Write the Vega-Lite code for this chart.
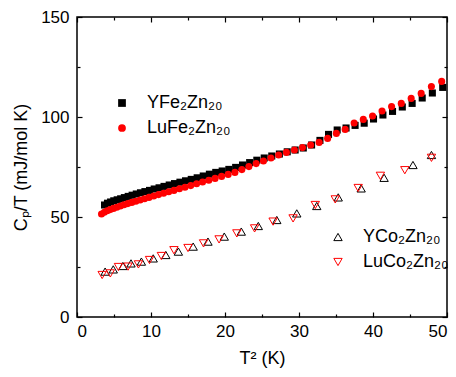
{
  "$schema": "https://vega.github.io/schema/vega-lite/v6.json",
  "width": 370,
  "height": 300,
  "autosize": {"type": "none"},
  "padding": {"left": 77, "top": 17, "right": 9, "bottom": 60},
  "config": {
    "font": "Liberation Sans",
    "view": {"stroke": "black", "strokeWidth": 1.5},
    "axis": {"grid": false, "domain": false, "tickColor": "black", "labelColor": "black", "titleColor": "black", "labelFontSize": 17, "titleFontSize": 18, "titleFontWeight": "normal", "tickWidth": 1.2},
    "legend": {"padding": 0}
  },
  "datasets": {
    "fe": [
      {"sample": "YFe₂Zn₂₀", "t2": 3.72, "cpt": 56.0},
      {"sample": "YFe₂Zn₂₀", "t2": 4.12, "cpt": 56.9},
      {"sample": "YFe₂Zn₂₀", "t2": 4.54, "cpt": 57.5},
      {"sample": "YFe₂Zn₂₀", "t2": 4.97, "cpt": 58.1},
      {"sample": "YFe₂Zn₂₀", "t2": 5.43, "cpt": 58.6},
      {"sample": "YFe₂Zn₂₀", "t2": 5.90, "cpt": 59.1},
      {"sample": "YFe₂Zn₂₀", "t2": 6.40, "cpt": 59.7},
      {"sample": "YFe₂Zn₂₀", "t2": 6.92, "cpt": 60.3},
      {"sample": "YFe₂Zn₂₀", "t2": 7.45, "cpt": 60.9},
      {"sample": "YFe₂Zn₂₀", "t2": 8.01, "cpt": 61.5},
      {"sample": "YFe₂Zn₂₀", "t2": 8.58, "cpt": 62.1},
      {"sample": "YFe₂Zn₂₀", "t2": 9.18, "cpt": 62.7},
      {"sample": "YFe₂Zn₂₀", "t2": 9.80, "cpt": 63.3},
      {"sample": "YFe₂Zn₂₀", "t2": 10.43, "cpt": 64.0},
      {"sample": "YFe₂Zn₂₀", "t2": 11.09, "cpt": 64.6},
      {"sample": "YFe₂Zn₂₀", "t2": 11.76, "cpt": 65.3},
      {"sample": "YFe₂Zn₂₀", "t2": 12.46, "cpt": 66.0},
      {"sample": "YFe₂Zn₂₀", "t2": 13.18, "cpt": 66.7},
      {"sample": "YFe₂Zn₂₀", "t2": 13.91, "cpt": 67.4},
      {"sample": "YFe₂Zn₂₀", "t2": 14.67, "cpt": 68.1},
      {"sample": "YFe₂Zn₂₀", "t2": 15.44, "cpt": 68.8},
      {"sample": "YFe₂Zn₂₀", "t2": 16.24, "cpt": 69.6},
      {"sample": "YFe₂Zn₂₀", "t2": 17.06, "cpt": 70.5},
      {"sample": "YFe₂Zn₂₀", "t2": 17.89, "cpt": 71.4},
      {"sample": "YFe₂Zn₂₀", "t2": 18.75, "cpt": 72.3},
      {"sample": "YFe₂Zn₂₀", "t2": 19.62, "cpt": 73.0},
      {"sample": "YFe₂Zn₂₀", "t2": 20.52, "cpt": 73.8},
      {"sample": "YFe₂Zn₂₀", "t2": 21.44, "cpt": 74.8},
      {"sample": "YFe₂Zn₂₀", "t2": 22.37, "cpt": 76.0},
      {"sample": "YFe₂Zn₂₀", "t2": 23.33, "cpt": 77.2},
      {"sample": "YFe₂Zn₂₀", "t2": 24.30, "cpt": 78.4},
      {"sample": "YFe₂Zn₂₀", "t2": 25.30, "cpt": 79.5},
      {"sample": "YFe₂Zn₂₀", "t2": 26.32, "cpt": 80.5},
      {"sample": "YFe₂Zn₂₀", "t2": 27.35, "cpt": 81.5},
      {"sample": "YFe₂Zn₂₀", "t2": 28.41, "cpt": 82.6},
      {"sample": "YFe₂Zn₂₀", "t2": 29.48, "cpt": 83.5},
      {"sample": "YFe₂Zn₂₀", "t2": 30.58, "cpt": 84.5},
      {"sample": "YFe₂Zn₂₀", "t2": 31.70, "cpt": 86.0},
      {"sample": "YFe₂Zn₂₀", "t2": 32.83, "cpt": 88.3},
      {"sample": "YFe₂Zn₂₀", "t2": 33.99, "cpt": 91.3},
      {"sample": "YFe₂Zn₂₀", "t2": 35.16, "cpt": 93.5},
      {"sample": "YFe₂Zn₂₀", "t2": 36.36, "cpt": 94.5},
      {"sample": "YFe₂Zn₂₀", "t2": 37.58, "cpt": 95.8},
      {"sample": "YFe₂Zn₂₀", "t2": 38.81, "cpt": 96.9},
      {"sample": "YFe₂Zn₂₀", "t2": 40.07, "cpt": 99.0},
      {"sample": "YFe₂Zn₂₀", "t2": 41.34, "cpt": 101.0},
      {"sample": "YFe₂Zn₂₀", "t2": 42.64, "cpt": 102.8},
      {"sample": "YFe₂Zn₂₀", "t2": 43.96, "cpt": 105.0},
      {"sample": "YFe₂Zn₂₀", "t2": 45.29, "cpt": 106.8},
      {"sample": "YFe₂Zn₂₀", "t2": 46.65, "cpt": 109.5},
      {"sample": "YFe₂Zn₂₀", "t2": 48.02, "cpt": 112.0},
      {"sample": "YFe₂Zn₂₀", "t2": 49.42, "cpt": 114.8},
      {"sample": "LuFe₂Zn₂₀", "t2": 3.31, "cpt": 51.5},
      {"sample": "LuFe₂Zn₂₀", "t2": 3.69, "cpt": 52.4},
      {"sample": "LuFe₂Zn₂₀", "t2": 4.08, "cpt": 53.1},
      {"sample": "LuFe₂Zn₂₀", "t2": 4.49, "cpt": 53.7},
      {"sample": "LuFe₂Zn₂₀", "t2": 4.93, "cpt": 54.3},
      {"sample": "LuFe₂Zn₂₀", "t2": 5.38, "cpt": 54.9},
      {"sample": "LuFe₂Zn₂₀", "t2": 5.86, "cpt": 55.5},
      {"sample": "LuFe₂Zn₂₀", "t2": 6.35, "cpt": 56.1},
      {"sample": "LuFe₂Zn₂₀", "t2": 6.86, "cpt": 56.7},
      {"sample": "LuFe₂Zn₂₀", "t2": 7.40, "cpt": 57.3},
      {"sample": "LuFe₂Zn₂₀", "t2": 7.95, "cpt": 57.9},
      {"sample": "LuFe₂Zn₂₀", "t2": 8.53, "cpt": 58.5},
      {"sample": "LuFe₂Zn₂₀", "t2": 9.12, "cpt": 59.1},
      {"sample": "LuFe₂Zn₂₀", "t2": 9.73, "cpt": 59.8},
      {"sample": "LuFe₂Zn₂₀", "t2": 10.37, "cpt": 60.5},
      {"sample": "LuFe₂Zn₂₀", "t2": 11.02, "cpt": 61.2},
      {"sample": "LuFe₂Zn₂₀", "t2": 11.70, "cpt": 61.9},
      {"sample": "LuFe₂Zn₂₀", "t2": 12.39, "cpt": 62.6},
      {"sample": "LuFe₂Zn₂₀", "t2": 13.10, "cpt": 63.3},
      {"sample": "LuFe₂Zn₂₀", "t2": 13.84, "cpt": 64.1},
      {"sample": "LuFe₂Zn₂₀", "t2": 14.59, "cpt": 64.9},
      {"sample": "LuFe₂Zn₂₀", "t2": 15.37, "cpt": 65.7},
      {"sample": "LuFe₂Zn₂₀", "t2": 16.16, "cpt": 66.6},
      {"sample": "LuFe₂Zn₂₀", "t2": 16.97, "cpt": 67.5},
      {"sample": "LuFe₂Zn₂₀", "t2": 17.81, "cpt": 68.4},
      {"sample": "LuFe₂Zn₂₀", "t2": 18.66, "cpt": 69.3},
      {"sample": "LuFe₂Zn₂₀", "t2": 19.54, "cpt": 70.3},
      {"sample": "LuFe₂Zn₂₀", "t2": 20.43, "cpt": 71.3},
      {"sample": "LuFe₂Zn₂₀", "t2": 21.34, "cpt": 72.3},
      {"sample": "LuFe₂Zn₂₀", "t2": 22.28, "cpt": 73.7},
      {"sample": "LuFe₂Zn₂₀", "t2": 23.23, "cpt": 75.2},
      {"sample": "LuFe₂Zn₂₀", "t2": 24.21, "cpt": 76.7},
      {"sample": "LuFe₂Zn₂₀", "t2": 25.20, "cpt": 78.0},
      {"sample": "LuFe₂Zn₂₀", "t2": 26.21, "cpt": 79.5},
      {"sample": "LuFe₂Zn₂₀", "t2": 27.25, "cpt": 81.0},
      {"sample": "LuFe₂Zn₂₀", "t2": 28.30, "cpt": 82.3},
      {"sample": "LuFe₂Zn₂₀", "t2": 29.38, "cpt": 83.5},
      {"sample": "LuFe₂Zn₂₀", "t2": 30.47, "cpt": 84.7},
      {"sample": "LuFe₂Zn₂₀", "t2": 31.58, "cpt": 86.0},
      {"sample": "LuFe₂Zn₂₀", "t2": 32.72, "cpt": 87.3},
      {"sample": "LuFe₂Zn₂₀", "t2": 33.87, "cpt": 89.3},
      {"sample": "LuFe₂Zn₂₀", "t2": 35.05, "cpt": 91.8},
      {"sample": "LuFe₂Zn₂₀", "t2": 36.24, "cpt": 93.8},
      {"sample": "LuFe₂Zn₂₀", "t2": 37.45, "cpt": 97.0},
      {"sample": "LuFe₂Zn₂₀", "t2": 38.69, "cpt": 98.8},
      {"sample": "LuFe₂Zn₂₀", "t2": 39.94, "cpt": 100.5},
      {"sample": "LuFe₂Zn₂₀", "t2": 41.22, "cpt": 103.0},
      {"sample": "LuFe₂Zn₂₀", "t2": 42.51, "cpt": 105.2},
      {"sample": "LuFe₂Zn₂₀", "t2": 43.82, "cpt": 106.8},
      {"sample": "LuFe₂Zn₂₀", "t2": 45.16, "cpt": 109.3},
      {"sample": "LuFe₂Zn₂₀", "t2": 46.51, "cpt": 111.8},
      {"sample": "LuFe₂Zn₂₀", "t2": 47.89, "cpt": 115.2},
      {"sample": "LuFe₂Zn₂₀", "t2": 49.28, "cpt": 117.8}
    ],
    "co": [
      {"sample": "YCo₂Zn₂₀", "t2": 3.8, "cpt": 22.7},
      {"sample": "YCo₂Zn₂₀", "t2": 4.9, "cpt": 23.8},
      {"sample": "YCo₂Zn₂₀", "t2": 6.2, "cpt": 25.5},
      {"sample": "YCo₂Zn₂₀", "t2": 7.3, "cpt": 26.8},
      {"sample": "YCo₂Zn₂₀", "t2": 8.7, "cpt": 27.7},
      {"sample": "YCo₂Zn₂₀", "t2": 10.3, "cpt": 29.3},
      {"sample": "YCo₂Zn₂₀", "t2": 12.0, "cpt": 31.0},
      {"sample": "YCo₂Zn₂₀", "t2": 13.7, "cpt": 32.7},
      {"sample": "YCo₂Zn₂₀", "t2": 15.7, "cpt": 35.2},
      {"sample": "YCo₂Zn₂₀", "t2": 17.7, "cpt": 37.7},
      {"sample": "YCo₂Zn₂₀", "t2": 19.9, "cpt": 40.2},
      {"sample": "YCo₂Zn₂₀", "t2": 22.2, "cpt": 42.7},
      {"sample": "YCo₂Zn₂₀", "t2": 24.5, "cpt": 45.5},
      {"sample": "YCo₂Zn₂₀", "t2": 27.0, "cpt": 48.5},
      {"sample": "YCo₂Zn₂₀", "t2": 29.7, "cpt": 51.8},
      {"sample": "YCo₂Zn₂₀", "t2": 32.4, "cpt": 55.5},
      {"sample": "YCo₂Zn₂₀", "t2": 35.3, "cpt": 59.8},
      {"sample": "YCo₂Zn₂₀", "t2": 38.4, "cpt": 64.3},
      {"sample": "YCo₂Zn₂₀", "t2": 41.5, "cpt": 69.6},
      {"sample": "YCo₂Zn₂₀", "t2": 45.4, "cpt": 76.0},
      {"sample": "YCo₂Zn₂₀", "t2": 47.9, "cpt": 81.0},
      {"sample": "LuCo₂Zn₂₀", "t2": 3.4, "cpt": 21.0},
      {"sample": "LuCo₂Zn₂₀", "t2": 4.5, "cpt": 21.8},
      {"sample": "LuCo₂Zn₂₀", "t2": 5.6, "cpt": 25.0},
      {"sample": "LuCo₂Zn₂₀", "t2": 6.9, "cpt": 25.2},
      {"sample": "LuCo₂Zn₂₀", "t2": 8.3, "cpt": 26.3},
      {"sample": "LuCo₂Zn₂₀", "t2": 9.8, "cpt": 28.5},
      {"sample": "LuCo₂Zn₂₀", "t2": 11.4, "cpt": 30.5},
      {"sample": "LuCo₂Zn₂₀", "t2": 13.1, "cpt": 33.4},
      {"sample": "LuCo₂Zn₂₀", "t2": 15.0, "cpt": 34.5},
      {"sample": "LuCo₂Zn₂₀", "t2": 17.1, "cpt": 36.8},
      {"sample": "LuCo₂Zn₂₀", "t2": 19.2, "cpt": 38.8},
      {"sample": "LuCo₂Zn₂₀", "t2": 21.6, "cpt": 41.8},
      {"sample": "LuCo₂Zn₂₀", "t2": 24.0, "cpt": 44.3},
      {"sample": "LuCo₂Zn₂₀", "t2": 26.5, "cpt": 47.7},
      {"sample": "LuCo₂Zn₂₀", "t2": 29.2, "cpt": 49.3},
      {"sample": "LuCo₂Zn₂₀", "t2": 32.2, "cpt": 56.0},
      {"sample": "LuCo₂Zn₂₀", "t2": 34.9, "cpt": 58.8},
      {"sample": "LuCo₂Zn₂₀", "t2": 38.0, "cpt": 64.5},
      {"sample": "LuCo₂Zn₂₀", "t2": 41.0, "cpt": 70.6},
      {"sample": "LuCo₂Zn₂₀", "t2": 44.3, "cpt": 73.4},
      {"sample": "LuCo₂Zn₂₀", "t2": 47.9, "cpt": 79.6}
    ]
  },
  "layer": [
    {
      "data": {"name": "fe"},
      "mark": {"type": "point", "filled": true, "opacity": 1, "size": 50},
      "encoding": {
        "x": {"field": "t2", "type": "quantitative", "scale": {"domain": [0, 50], "nice": false, "zero": false},
              "axis": {"orient": "bottom", "values": [0, 10, 20, 30, 40, 50], "tickSize": -5, "labelPadding": 11, "title": "T² (K)", "titlePadding": 10}},
        "y": {"field": "cpt", "type": "quantitative", "scale": {"domain": [0, 150], "nice": false},
              "axis": {"orient": "left", "values": [0, 50, 100, 150], "tickSize": -5, "labelPadding": 13, "title": "Cₚ/T (mJ/mol K)", "titlePadding": 10}},
        "color": {"field": "sample", "type": "nominal", "scale": {"domain": ["YFe₂Zn₂₀", "LuFe₂Zn₂₀"], "range": ["#000000", "#ff0000"]},
                  "legend": {"orient": "none", "legendX": 36, "legendY": 77, "title": null, "labelFontSize": 18, "labelColor": "black", "symbolSize": 60, "labelOffset": 16, "rowPadding": 7}},
        "shape": {"field": "sample", "type": "nominal", "scale": {"domain": ["YFe₂Zn₂₀", "LuFe₂Zn₂₀"], "range": ["square", "circle"]},
                  "legend": {"orient": "none", "legendX": 36, "legendY": 77, "title": null, "labelFontSize": 18, "labelColor": "black", "symbolSize": 60, "labelOffset": 16, "rowPadding": 7}}
      }
    },
    {
      "data": {"name": "co"},
      "mark": {"type": "point", "filled": false, "opacity": 1, "size": 70, "strokeWidth": 1},
      "encoding": {
        "x": {"field": "t2", "type": "quantitative", "axis": {"orient": "top", "values": [0, 10, 20, 30, 40, 50], "tickSize": -5, "labels": false, "title": null}},
        "y": {"field": "cpt", "type": "quantitative", "axis": {"orient": "right", "values": [0, 50, 100, 150], "tickSize": -5, "labels": false, "title": null}},
        "color": {"field": "sample", "type": "nominal", "scale": {"domain": ["YCo₂Zn₂₀", "LuCo₂Zn₂₀"], "range": ["#000000", "#ff0000"]},
                  "legend": {"orient": "none", "legendX": 252, "legendY": 211, "title": null, "labelFontSize": 18, "labelColor": "black", "symbolSize": 70, "symbolStrokeWidth": 1, "labelOffset": 16, "rowPadding": 7}},
        "shape": {"field": "sample", "type": "nominal", "scale": {"domain": ["YCo₂Zn₂₀", "LuCo₂Zn₂₀"], "range": ["triangle-up", "triangle-down"]},
                  "legend": {"orient": "none", "legendX": 252, "legendY": 211, "title": null, "labelFontSize": 18, "labelColor": "black", "symbolSize": 70, "symbolStrokeWidth": 1, "labelOffset": 16, "rowPadding": 7}}
      }
    },
    {
      "data": {"name": "co"},
      "mark": {"type": "point", "opacity": 0},
      "encoding": {
        "x": {"field": "t2", "type": "quantitative", "axis": {"orient": "bottom", "values": [5, 15, 25, 35, 45], "tickSize": -3, "labels": false, "title": null}},
        "y": {"field": "cpt", "type": "quantitative", "axis": {"orient": "left", "values": [25, 75, 125], "tickSize": -3, "labels": false, "title": null}}
      }
    },
    {
      "data": {"name": "co"},
      "mark": {"type": "point", "opacity": 0},
      "encoding": {
        "x": {"field": "t2", "type": "quantitative", "axis": {"orient": "top", "values": [5, 15, 25, 35, 45], "tickSize": -3, "labels": false, "title": null}},
        "y": {"field": "cpt", "type": "quantitative", "axis": {"orient": "right", "values": [25, 75, 125], "tickSize": -3, "labels": false, "title": null}}
      }
    }
  ],
  "resolve": {"scale": {"color": "independent", "shape": "independent"}, "axis": {"x": "independent", "y": "independent"}}
}
